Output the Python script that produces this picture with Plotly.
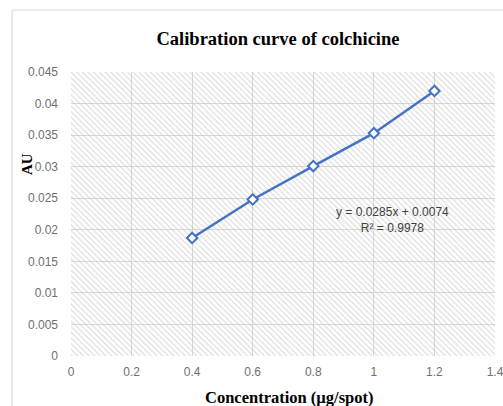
import plotly.graph_objects as go

concentration = [0.4, 0.6, 0.8, 1.0, 1.2]
absorbance = [0.0187, 0.0248, 0.0301, 0.0353, 0.0420]
x_ticks = [0, 0.2, 0.4, 0.6, 0.8, 1, 1.2, 1.4]
y_ticks = [0, 0.005, 0.01, 0.015, 0.02, 0.025, 0.03, 0.035, 0.04, 0.045]
x_range = [0, 1.4]
y_range = [0, 0.045]

tick_font = dict(family="Liberation Sans Narrow, Arial Narrow, Liberation Sans, sans-serif", size=12, color="#6f6f6f")
serif = "Liberation Serif, Times New Roman, serif"

fig = go.Figure()

# hatched plot-area background
fig.add_trace(go.Scatter(
    x=[x_range[0], x_range[1], x_range[1], x_range[0], x_range[0]],
    y=[y_range[0], y_range[0], y_range[1], y_range[1], y_range[0]],
    mode="lines", line=dict(width=0), fill="toself", fillcolor="rgba(0,0,0,0)",
    fillpattern=dict(shape="\\", fgcolor="#bdbdbd", bgcolor="rgba(0,0,0,0)", size=4, solidity=0.3),
    hoverinfo="skip", showlegend=False,
))

fig.add_trace(go.Scatter(
    x=concentration, y=absorbance, mode="lines+markers",
    line=dict(color="#4472C4", width=2.5),
    marker=dict(symbol="diamond", size=8, color="white", line=dict(color="#4472C4", width=2)),
    showlegend=False,
))

fig.update_layout(
    width=503, height=406,
    margin=dict(l=71, r=8, t=72, b=50, autoexpand=False),
    paper_bgcolor="white", plot_bgcolor="white",
    title=dict(text="<b>Calibration curve of colchicine</b>", font=dict(family=serif, size=18.5, color="black"),
               x=278/503, xanchor="center", y=1 - 39/406, yanchor="middle"),
    xaxis=dict(range=x_range, tickvals=x_ticks, ticktext=[str(v) for v in x_ticks],
               showgrid=True, gridcolor="#d9d9d9", gridwidth=1, zeroline=False, automargin=False,
               showline=False, tickfont=tick_font, ticks="", ticklabelstandoff=7,
               ticklabeloverflow="allow"),
    yaxis=dict(range=y_range, tickvals=y_ticks, ticktext=[str(v) for v in y_ticks],
               showgrid=True, gridcolor="#d9d9d9", gridwidth=1, zeroline=False, automargin=False,
               showline=False, tickfont=tick_font, ticks="", ticklabelstandoff=12,
               ticklabeloverflow="allow"),
    shapes=[dict(type="rect", xref="paper", yref="paper", x0=-0.139, x1=1.1, y0=-0.3, y1=1.218,
                 line=dict(color="#d9d9d9", width=1), layer="below")],
    annotations=[
        dict(text="y = 0.0285x + 0.0074<br>R² = 0.9978", x=1.06, y=0.0188, xref="x", yref="y",
             xanchor="center", yanchor="bottom", showarrow=False, align="center",
             font=dict(family=tick_font["family"], size=12, color="#404040")),
        dict(text="<b>Concentration (µg/spot)</b>", xref="paper", yref="paper",
             x=(289.5 - 71) / 424, y=-(397 - 356) / 284, xanchor="center", yanchor="middle",
             showarrow=False, font=dict(family=serif, size=16.5, color="black")),
        dict(text="<b>AU</b>", xref="paper", yref="paper", textangle=-90,
             x=-(71 - 27) / 424, y=(356 - 164) / 284, xanchor="center", yanchor="middle",
             showarrow=False, font=dict(family=serif, size=15, color="black")),
    ],
)

fig.write_html("out.html")
